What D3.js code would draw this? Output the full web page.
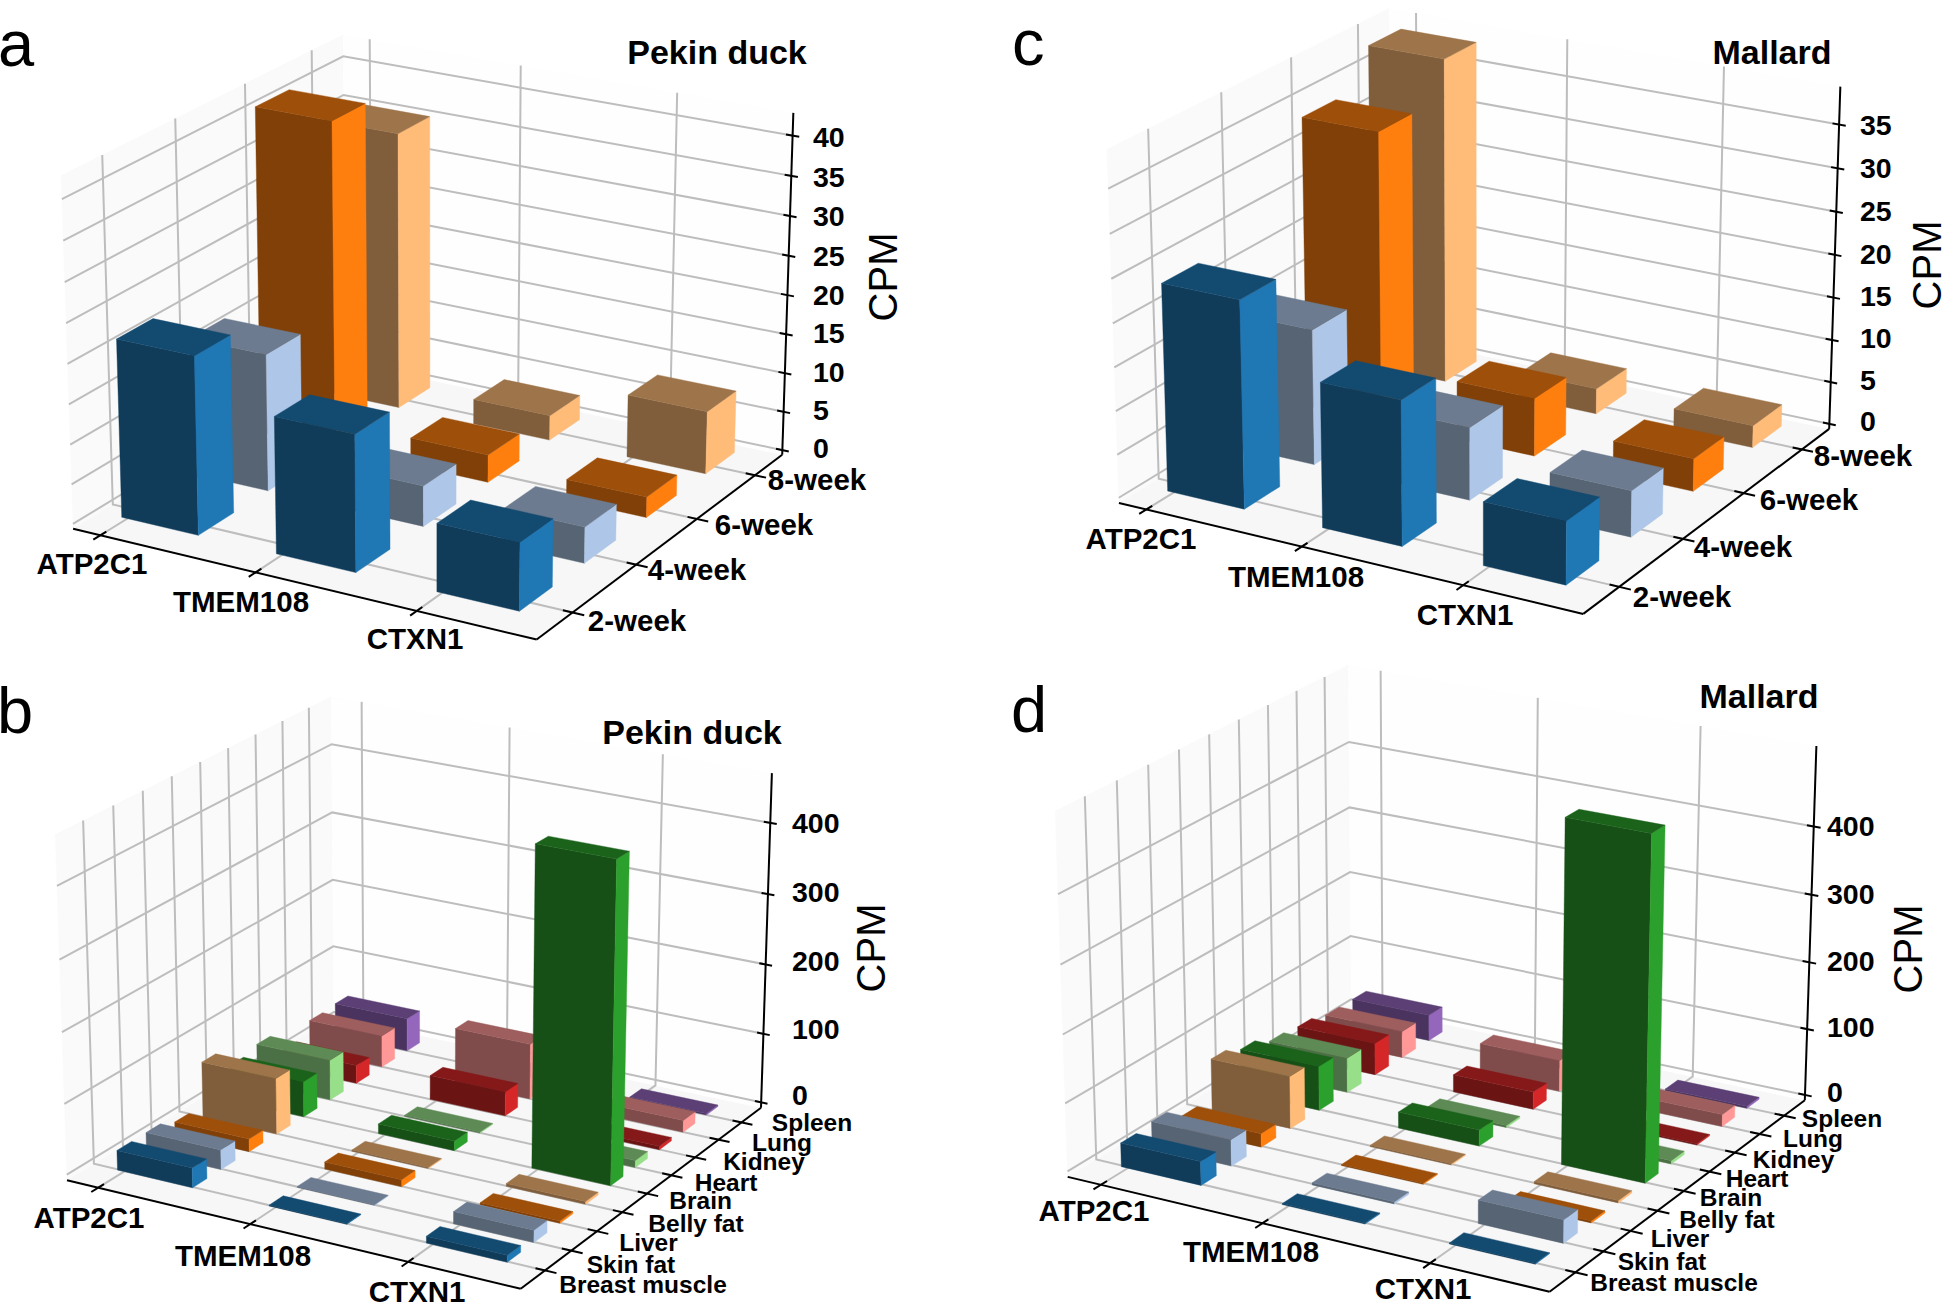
<!DOCTYPE html>
<html><head><meta charset="utf-8">
<script src="https://cdn.jsdelivr.net/npm/d3@7"></script>
<style>html,body{margin:0;padding:0;background:#fff}svg{display:block}text{font-family:"Liberation Sans",Arial,sans-serif}</style>
</head><body><svg id="c" width="1944" height="1305"></svg>
<script>
const genes = ["ATP2C1","TMEM108","CTXN1"];
const ages = ["2-week","4-week","6-week","8-week"];
const tissues = ["Breast muscle","Skin fat","Liver","Belly fat","Brain","Heart","Kidney","Lung","Spleen"];
const ageColors = ["#1f77b4","#aec7e8","#ff7f0e","#ffbb78"];
const tissueColors = ["#1f77b4","#aec7e8","#ff7f0e","#ffbb78","#2ca02c","#98df8a","#d62728","#ff9896","#9467bd"];

// rows: genes, columns: ages / tissues
const pekinAge = [[22.3,17.3,41.6,35.6],[17,5.1,3.5,3.2],[8.4,4.5,2.6,8]];
const mallardAge = [[23.8,15.7,34,38.3],[16.5,8.4,6.8,3],[7.2,5.3,3.8,2.6]];
const pekinTissue = [[28,28,18,80,51,58,26,46,48],[1,1,10,1.5,14,1.5,35,80,5],[9.5,17,3,4,449,10,5,17,2]];
const mallardTissue = [[35,39,20,78,66,52,48,40,39],[1.5,3,1.5,2,24,3,26,47,5],[1.5,34,3,3.5,499,5,2,18,3]];
const ageZTicks = [0,5,10,15,20,25,30,35,40];
const mallardAgeZTicks = [0,5,10,15,20,25,30,35];
const tissueZTicks = [0,100,200,300,400];

const panels = [
 {letter:"a",letterAt:[-2,66],title:"Pekin duck",titleAt:[717,52],cpmAt:[883,277],values:pekinAge,rows:ages,colors:ageColors,
  xDom:[-0.18,2.72],zDom:[-0.6,42.8],zTicks:ageZTicks,zLabelX:813,zLabelDy:[-2,1],yDom:[-0.294,3.736],yFont:29.5,
  anchors:{left:[77.5,528],front:[534,640],right:[780,452],ztop:[798,115],backTop:[341,28],leftTop:[59,183]},
  xLab:[[92,563],[241,601],[415,638]],yLab:[[637,620],[697,569.5],[764,524],[817,479.5]]},
 {letter:"c",letterAt:[1012,65],title:"Mallard",titleAt:[1772,52],cpmAt:[1927,265],values:mallardAge,rows:ages,colors:ageColors,
  xDom:[-0.18,2.72],zDom:[-0.6,39.3],zTicks:mallardAgeZTicks,zLabelX:1860,zLabelDy:[-3,0],yDom:[-0.294,3.736],yFont:29.5,
  anchors:{left:[1124,502],front:[1581,614],right:[1826,427],ztop:[1845,88],backTop:[1389,2],leftTop:[1103,157]},
  xLab:[[1141,538],[1296,576],[1465,614]],yLab:[[1682,596],[1743,546],[1809,499],[1863,455]]},
 {letter:"b",letterAt:[-3,733],title:"Pekin duck",titleAt:[692,732],cpmAt:[871,948],values:pekinTissue,rows:tissues,colors:tissueColors,
  xDom:[-0.21,2.69],zDom:[-8,469],zTicks:tissueZTicks,zLabelX:792,zLabelDy:[-7,0],yDom:[-0.66,9.11],yFont:24.5,
  anchors:{left:[71,1179],front:[518,1289],right:[759,1106],ztop:[776,775],backTop:[330,690],leftTop:[53,842]},
  xLab:[[89,1217],[243,1255],[417,1291]],yLab:[[643,1284],[631,1264],[648.5,1242],[696,1223],[700.6,1200],[726,1182],[764,1161.5],[782,1142],[812,1122]]},
 {letter:"d",letterAt:[1011,732],title:"Mallard",titleAt:[1759,696],cpmAt:[1908,949],values:mallardTissue,rows:tissues,colors:tissueColors,
  xDom:[-0.21,2.69],zDom:[-8,516],zTicks:tissueZTicks,zLabelX:1827,zLabelDy:[-3,0],yDom:[-0.66,9.11],yFont:24.5,
  anchors:{left:[1071,1176],front:[1549,1292],right:[1802,1098],ztop:[1820,747],backTop:[1347,659],leftTop:[1053,819]},
  xLab:[[1094,1210],[1251,1251],[1423,1288]],yLab:[[1674,1282],[1662,1261.5],[1680,1238],[1727,1219],[1731,1197],[1757,1178],[1793.5,1159],[1813,1138.5],[1842,1118]]}
];

const style = {barX:0.5,barY:0.5,front:0.5,top:0.62,
  floor:"#f7f7f7",left:"#fafafa",back:"#fefefe",grid:"#bdbdbd",gridW:2,axisW:2,tick:0.02};
const box=[1.143,1.143,0.857], elev=22*Math.PI/180, azim=-60*Math.PI/180, dist=10;
const R=box.map(b=>b/2);
const nv=[Math.cos(elev)*Math.cos(azim),Math.cos(elev)*Math.sin(azim),Math.sin(elev)];
const eye=R.map((r,i)=>r+dist*nv[i]);
const cross=(a,b)=>[a[1]*b[2]-a[2]*b[1],a[2]*b[0]-a[0]*b[2],a[0]*b[1]-a[1]*b[0]];
const dot=(a,b)=>a[0]*b[0]+a[1]*b[1]+a[2]*b[2];
let u=cross([0,0,1],nv);const ul=Math.hypot(...u);u=u.map(d=>d/ul);
const v=cross(nv,u);
function cam(bx,by,bz){const d=[bx-eye[0],by-eye[1],bz-eye[2]];const w=-dot(d,nv);return [dist*dot(d,u)/w,dist*dot(d,v)/w];}
function fit(xs,ys){const mx=d3.mean(xs),my=d3.mean(ys);const b=d3.sum(xs,(x,i)=>(x-mx)*(ys[i]-my))/d3.sum(xs,x=>(x-mx)*(x-mx));return [my-b*mx,b];}

const svg=d3.select("#c");
const line=d3.line();
panels.forEach(p=>{
  const X=d3.scaleLinear().domain(p.xDom).range([0,box[0]]);
  const Y=d3.scaleLinear().domain(p.yDom).range([0,box[1]]);
  const Z=d3.scaleLinear().domain(p.zDom).range([0,box[2]]);
  const [x0,x1]=X.domain(),[y0,y1]=Y.domain(),[z0,z1]=Z.domain();
  const a=p.anchors;
  const refs=[[a.left,x0,y0,z0],[a.front,x1,y0,z0],[a.right,x1,y1,z0],[a.ztop,x1,y1,z1],[a.backTop,x0,y1,z1],[a.leftTop,x0,y0,z1]];
  const c3=refs.map(r=>cam(X(r[1]),Y(r[2]),Z(r[3])));
  const [ax,bx]=fit(c3.map(c=>c[0]),refs.map(r=>r[0][0]));
  const [ay,by]=fit(c3.map(c=>c[1]),refs.map(r=>r[0][1]));
  const P=(x,y,z)=>{const c=cam(X(x),Y(y),Z(z));return [ax+bx*c[0],ay+by*c[1]];};
  const g=svg.append("g");
  const poly=(pts,fill)=>g.append("path").attr("d",line(pts.map(q=>P(...q)))+"Z").attr("fill",fill).attr("stroke",fill).attr("stroke-width",0.4);
  const seg=(pts,col,w)=>g.append("path").attr("d",line(pts.map(q=>P(...q)))).attr("fill","none").attr("stroke",col).attr("stroke-width",w);
  poly([[x0,y0,z0],[x1,y0,z0],[x1,y1,z0],[x0,y1,z0]],style.floor);
  poly([[x0,y0,z0],[x0,y1,z0],[x0,y1,z1],[x0,y0,z1]],style.left);
  poly([[x0,y1,z0],[x1,y1,z0],[x1,y1,z1],[x0,y1,z1]],style.back);
  const xT=genes.map((_,i)=>i), yT=p.rows.map((_,j)=>j+0.25);
  xT.forEach(t=>seg([[t,y0,z0],[t,y1,z0],[t,y1,z1]],style.grid,style.gridW));
  yT.forEach(t=>seg([[x1,t,z0],[x0,t,z0],[x0,t,z1]],style.grid,style.gridW));
  p.zTicks.forEach(t=>seg([[x0,y0,t],[x0,y1,t],[x1,y1,t]],style.grid,style.gridW));
  seg([[x0,y0,z0],[x1,y0,z0]],"#000",style.axisW);
  seg([[x1,y0,z0],[x1,y1,z0]],"#000",style.axisW);
  seg([[x1,y1,z0],[x1,y1,z1]],"#000",style.axisW);
  const dxT=(x1-x0)*style.tick, dyT=(y1-y0)*style.tick;
  xT.forEach(t=>seg([[t,y0-dyT*1.2,z0],[t,y0+dyT,z0]],"#000",style.axisW));
  yT.forEach(t=>seg([[x1-dxT,t,z0],[x1+dxT*1.2,t,z0]],"#000",style.axisW));
  p.zTicks.forEach(t=>seg([[x1-dxT*0.7,y1,t],[x1+dxT*0.7,y1,t]],"#000",style.axisW));
  const bars=[];
  p.values.forEach((rowVals,i)=>rowVals.forEach((val,j)=>bars.push({i,j,val,depth:i-j})));
  bars.sort((m,n)=>d3.ascending(m.depth,n.depth)||d3.ascending(m.i,n.i));
  bars.forEach(b=>{
    const xa=b.i,xb=b.i+style.barX,ya=b.j,yb=b.j+style.barY,h=b.val;
    const base=d3.rgb(p.colors[b.j]);
    const shade=f=>d3.rgb(base.r*f,base.g*f,base.b*f).formatHex();
    poly([[xa,ya,0],[xb,ya,0],[xb,ya,h],[xa,ya,h]],shade(style.front));
    poly([[xb,ya,0],[xb,yb,0],[xb,yb,h],[xb,ya,h]],base.formatHex());
    poly([[xa,ya,h],[xb,ya,h],[xb,yb,h],[xa,yb,h]],shade(style.top));
  });
  const T=(s,at,size,w,anc,rot)=>g.append("text").text(s).attr("font-size",size).attr("font-weight",w).attr("text-anchor",anc||"middle").attr("dominant-baseline","central").attr("fill","#000")
    .attr("transform",`translate(${at[0]},${at[1]})${rot?" rotate(-90)":""}`);
  genes.forEach((s,i)=>T(s,p.xLab[i],29.5,700));
  p.rows.forEach((s,j)=>T(s,p.yLab[j],p.yFont,700));
  const maxTick=d3.max(p.zTicks);
  const labelDy=d3.scaleLinear().domain([0,maxTick]).range(p.zLabelDy);
  p.zTicks.forEach(t=>{const q=P(x1,y1,t);T(t,[p.zLabelX,q[1]+labelDy(t)],28.5,700,"start");});
  T(p.title,p.titleAt,34,700);
  T(p.letter,p.letterAt,65,400,"start").attr("dominant-baseline",null);
  T("CPM",p.cpmAt,40,400,"middle",true);
});
</script></body></html>
